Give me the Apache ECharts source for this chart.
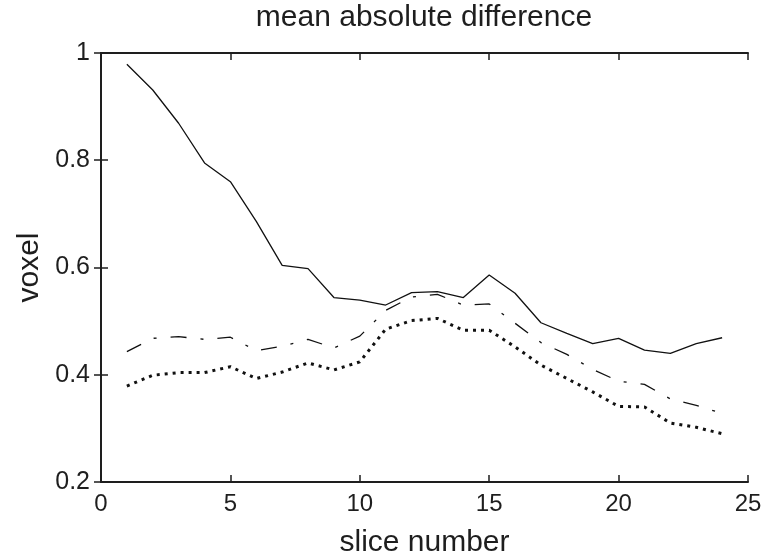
<!DOCTYPE html>
<html>
<head>
<meta charset="utf-8">
<script src="https://cdn.jsdelivr.net/npm/echarts@6/dist/echarts.min.js"></script>
<style>
  html, body { margin: 0; padding: 0; background: #fff; }
  #chart { width: 762px; height: 558px; }
</style>
</head>
<body>
<div id="chart"></div>
<script>
// slice index 1..24
const slices = [1, 2, 3, 4, 5, 6, 7, 8, 9, 10, 11, 12, 13, 14, 15, 16, 17, 18, 19, 20, 21, 22, 23, 24];

// mean absolute difference per slice (voxel units)
const solidSeries = [0.979, 0.931, 0.869, 0.795, 0.760, 0.686, 0.604, 0.598, 0.544, 0.539, 0.530, 0.553,
                     0.555, 0.544, 0.586, 0.552, 0.497, 0.477, 0.458, 0.468, 0.446, 0.440, 0.458, 0.469];
const dashDotSeries = [0.443, 0.468, 0.471, 0.466, 0.470, 0.445, 0.453, 0.466, 0.450, 0.472, 0.520, 0.545,
                       0.550, 0.530, 0.532, 0.496, 0.460, 0.438, 0.410, 0.388, 0.382, 0.355, 0.343, 0.328];
const dottedSeries = [0.379, 0.399, 0.404, 0.404, 0.415, 0.393, 0.405, 0.422, 0.409, 0.424, 0.485, 0.501,
                      0.505, 0.483, 0.483, 0.452, 0.418, 0.393, 0.368, 0.341, 0.340, 0.310, 0.302, 0.290];

const xTicks = [0, 5, 10, 15, 20, 25];
const yTicks = [0.2, 0.4, 0.6, 0.8, 1];

const FONT = '"Liberation Sans", Arial, Helvetica, sans-serif';
const INK = '#1e1e1e';

const pairs = (ys) => slices.map((x, i) => [x, ys[i]]);

const frameLine = { show: true, lineStyle: { color: INK, width: 2 } };
const innerTick = { show: true, inside: true, length: 7, lineStyle: { color: INK, width: 1.5 } };

const chart = echarts.init(document.getElementById('chart'), null, { renderer: 'canvas' });
chart.setOption({
  backgroundColor: '#ffffff',
  animation: false,
  title: {
    text: 'mean absolute difference',
    left: 424, top: 3, textAlign: 'center', padding: 0,
    textStyle: { fontFamily: FONT, fontSize: 30, fontWeight: 'normal', color: INK }
  },
  grid: { left: 101, right: 14, top: 53, bottom: 76, containLabel: false, outerBoundsMode: 'none' },
  xAxis: [
    {
      type: 'value', position: 'bottom', min: xTicks[0], max: xTicks[xTicks.length - 1], interval: 5,
      name: 'slice number', nameLocation: 'middle', nameGap: 46,
      nameTextStyle: { fontFamily: FONT, fontSize: 30, color: INK },
      axisLine: frameLine, axisTick: innerTick, splitLine: { show: false },
      axisLabel: { fontFamily: FONT, fontSize: 24, color: INK, margin: 10 }
    },
    {
      type: 'value', position: 'top', min: xTicks[0], max: xTicks[xTicks.length - 1], interval: 5,
      axisLine: frameLine, axisTick: innerTick, splitLine: { show: false }, axisLabel: { show: false }
    }
  ],
  yAxis: [
    {
      type: 'value', position: 'left', min: yTicks[0], max: yTicks[yTicks.length - 1], interval: 0.2,
      name: 'voxel', nameLocation: 'middle', nameGap: 52,
      nameTextStyle: { fontFamily: FONT, fontSize: 30, color: INK },
      axisLine: frameLine, axisTick: innerTick, splitLine: { show: false },
      axisLabel: {
        fontFamily: FONT, fontSize: 25, color: INK, margin: 11,
        formatter: (v) => String(Math.round(v * 10) / 10)
      }
    },
    {
      type: 'value', position: 'right', min: yTicks[0], max: yTicks[yTicks.length - 1], interval: 0.2,
      axisLine: frameLine, axisTick: innerTick, splitLine: { show: false }, axisLabel: { show: false }
    }
  ],
  series: [
    {
      name: 'solid', type: 'line', data: pairs(solidSeries), showSymbol: false, symbol: 'none',
      lineStyle: { color: '#111', width: 1.3, type: 'solid' }
    },
    {
      name: 'dash-dot', type: 'line', data: pairs(dashDotSeries), showSymbol: false, symbol: 'none',
      lineStyle: { color: '#111', width: 1.3, type: [16, 14, 3, 14] }
    },
    {
      name: 'dotted', type: 'line', data: pairs(dottedSeries), showSymbol: false, symbol: 'none',
      lineStyle: { color: '#111', width: 3, type: [3, 5], cap: 'butt' }
    }
  ]
});
</script>
</body>
</html>
